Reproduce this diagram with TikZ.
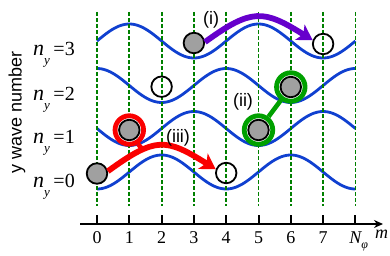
\documentclass[tikz,border=0pt]{standalone}
\usepackage{fontspec}
\setmainfont{Liberation Serif}
\newfontfamily\arialfont{Liberation Sans}
\usetikzlibrary{arrows.meta}
\definecolor{wavecol}{RGB}{16,64,208}
\definecolor{gridcol}{RGB}{0,128,0}
\definecolor{ringgreen}{RGB}{0,160,0}
\definecolor{ringred}{RGB}{250,0,0}
\definecolor{purplecol}{RGB}{102,0,204}
\definecolor{ballgray}{RGB}{160,160,160}
\tikzset{
  wavestyle/.style={draw=wavecol, line width=2.8pt},
  gridline/.style={draw=gridcol, line width=1.8pt, dash pattern=on 4pt off 2pt},
  axisline/.style={draw=black, line width=2pt},
  ticklab/.style={anchor=base, inner sep=0pt, font=\fontsize{18}{18}\selectfont},
  nylab/.style={anchor=base west, inner sep=0pt},
  sanslab/.style={inner sep=0pt, font=\arialfont\fontsize{18}{18}\selectfont},
  filledball/.style={circle, draw=black, line width=1.8pt, fill=ballgray, minimum size=20.5pt, inner sep=0pt},
  emptyball/.style={circle, draw=black, line width=1.8pt, minimum size=20.5pt, inner sep=0pt},
  greenring/.style={circle, draw=ringgreen, line width=4.8pt, fill=white, minimum size=28.5pt, inner sep=0pt},
  redring/.style={circle, draw=ringred, line width=4.8pt, fill=white, minimum size=28.5pt, inner sep=0pt},
  greenlink/.style={draw=ringgreen, line width=4.6pt},
  redlink/.style={draw=ringred, line width=4.6pt},
  redarrow/.style={draw=ringred, line width=5.8pt, -{Stealth[length=15pt,width=18pt,inset=4pt]}},
  purplearrow/.style={draw=purplecol, line width=5.8pt, -{Stealth[length=15pt,width=18pt,inset=4pt]}},
}
\newcommand{\nylabel}[1]{{\fontsize{22}{22}\selectfont\itshape n}\raisebox{-9pt}{\fontsize{13}{13}\selectfont\itshape y}\kern3.5pt{\fontsize{20}{20}\selectfont =#1}}
\begin{document}
\begin{tikzpicture}[x=1pt,y=1pt]
\useasboundingbox (0,0) rectangle (390,255);
% waves
\draw[wavestyle] plot[domain=97:355.4,samples=120,smooth,variable=\t] (\t,{214+17*cos(2.7864*(\t-129.3))});
\draw[wavestyle] plot[domain=97:355.4,samples=120,smooth,variable=\t] (\t,{169.5+17*cos(2.7864*(\t-97))});
\draw[wavestyle] plot[domain=97:355.4,samples=120,smooth,variable=\t] (\t,{126.5+17*cos(2.7864*(\t-193.9))});
\draw[wavestyle] plot[domain=97:355.4,samples=120,smooth,variable=\t] (\t,{83+17*cos(2.7864*(\t-161.6))});
% grid
\foreach \i in {0,...,8}{
  \coordinate (gt\i) at ({97+32.3*\i},243);
  \coordinate (gb\i) at ({97+32.3*\i},49);
  \coordinate (ta\i) at ({97+32.3*\i},31);
  \coordinate (tb\i) at ({97+32.3*\i},40);
  \draw[gridline] (gt\i) -- (gb\i);
  \draw[axisline] (ta\i) -- (tb\i);
}
% axis
\coordinate (axstart) at (80,31);
\coordinate (axend) at (383,31);
\draw[axisline, -{Stealth[length=9pt,width=8pt]}] (axstart) -- (axend);
\foreach \i in {0,...,7}{
  \node[ticklab] (tl\i) at ({97+32.3*\i},12) {\i};
}
\node[ticklab] (tlN) at (355.4,12) {\itshape N\rlap{\raisebox{-5pt}{\fontsize{12}{12}\selectfont\itshape φ}}};
\node[nylab, font=\fontsize{18}{18}\selectfont\itshape] (mlab) at (375,17) {m};
% left labels
\node[nylab] (ny3) at (33,200) {\nylabel{3}};
\node[nylab] (ny2) at (33,155) {\nylabel{2}};
\node[nylab] (ny1) at (33,112) {\nylabel{1}};
\node[nylab] (ny0) at (33,68) {\nylabel{0}};
\node[sanslab, rotate=90] (ylab) at (17,143) {y wave number};
% rings
\node[greenring] (rg1) at (258.5,125) {};
\node[greenring] (rg2) at (290.8,168) {};
\node[redring] (rr) at (129.3,125) {};
\draw[greenlink] (rg1) -- (rg2);
% balls
\node[filledball] (f3) at (193.9,212) {};
\node[emptyball] (e3) at (323.1,211) {};
\node[emptyball] (e2) at (161.6,168.3) {};
\node[filledball] (f2) at (290.8,168) {};
\node[filledball] (g1) at (258.5,125) {};
\node[filledball] (r1) at (129.3,125) {};
\node[filledball] (f0) at (97,81.5) {};
\node[emptyball] (e0) at (226.2,82) {};
% arrows
\coordinate (tailend) at (143,105);
\draw[redlink] (rr.-58) -- (tailend);
\draw[redarrow] (f0.12) .. controls +(36:59) and +(148:59) .. (e0.160);
\draw[purplearrow] (f3.5) .. controls +(36:58) and +(148:58) .. (e3.160);
% process labels
\node[sanslab] (lab1) at (211,235) {(i)};
\node[sanslab] (lab2) at (243,153) {(ii)};
\node[sanslab] (lab3) at (178,117) {(iii)};
\end{tikzpicture}
\end{document}
